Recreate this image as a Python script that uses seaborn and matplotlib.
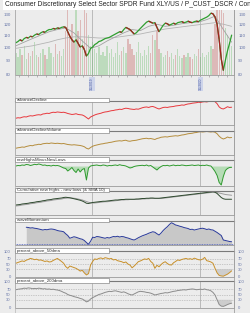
import numpy as np
import pandas as pd
import matplotlib
matplotlib.use("Agg")
import matplotlib.pyplot as plt
import matplotlib.dates as mdates
import matplotlib.transforms as mtrans
from matplotlib.patches import Rectangle
from matplotlib.lines import Line2D
from matplotlib.ticker import NullLocator
import seaborn as sns

# ---------------- data ----------------
dates = pd.date_range("2018-04-20", periods=105, freq="7D")
ma_dates = dates[::4]

title = "Consumer Discretionary Select Sector SPDR Fund XLY/US / P_CUST_DSCR / Consumer Discretionary"
panel_labels = ["advanceDecline", "advanceDeclineVolume", "newHighsMinusNewLows",
                "Cumulative new highs - new lows (& SMA 10)", "waveMomentum",
                "percent_above_50dma", "percent_above_200dma"]
date_marks = ["2019-01-02", "2020-01-02"]
date_labels = ["1/2/2019", "1/2/2020"]
price_ticks = [80, 90, 100, 110, 120, 130, 140]
pct_ticks = [0, 30, 50, 70, 100]

price = [103.5, 104.5, 106, 105, 107, 108, 107.5, 109, 108.5, 110,
         111, 110.5, 112, 113, 112.5, 114, 115, 115, 116, 115.5,
         116.5, 116, 117, 117.5, 117, 113, 109, 106, 104, 106,
         103, 100, 101, 98, 93, 95, 99, 100, 102, 103,
         104.5, 105, 106, 107, 107.5, 108, 109, 110, 111, 112,
         113, 112.5, 115, 117, 116, 115, 113, 111, 112, 114,
         116, 118, 120, 122, 123, 122, 121, 121.5, 117, 113,
         116, 119, 121, 120.5, 119, 120, 121, 120, 121.5, 122,
         122.5, 121.5, 122, 123, 122, 121.5, 122.5, 123, 122.5, 124,
         125, 126, 127, 128.5, 131, 130.5, 127, 120, 106, 91,
         83, 90, 97, 103, 110]

ma_fast = [101, 104, 107, 110, 113, 115, 116.5, 112, 105, 99, 101, 105, 108.5, 112,
           115, 114, 118, 120, 118, 119, 120.5, 121.5, 122, 124.5, 128, 115, 104]
ma_slow = [99, 100, 101, 102.5, 104, 106, 107.5, 108.5, 108.5, 108, 107.5, 107.5, 108, 109,
           110, 111, 112.5, 114, 115.5, 116.5, 117.5, 118.5, 119.5, 120.5, 121.5, 120, 118]

volume = [30, 25, 35, 28, 40, 22, 30, 26, 33, 45,
          28, 24, 30, 36, 27, 22, 38, 30, 25, 42,
          29, 33, 26, 35, 60, 95, 55, 70, 45, 100,
          60, 75, 50, 100, 85, 55, 40, 45, 35, 30,
          38, 28, 32, 26, 40, 30, 35, 25, 30, 45,
          28, 33, 38, 30, 50, 42, 35, 28, 32, 45,
          30, 26, 34, 28, 40, 30, 55, 48, 60, 35,
          30, 25, 28, 33, 24, 30, 22, 27, 35, 26,
          23, 28, 25, 30, 24, 22, 29, 26, 35, 25,
          30, 24, 28, 32, 40, 35, 70, 100, 90, 100,
          85, 65, 55, 45, 40]

adv_decl = [27, 29, 28, 31, 33, 32, 35, 37, 36, 38,
            40, 41, 40, 44, 45, 47, 46, 49, 51, 50,
            52, 51, 50, 51, 49, 46, 44, 42, 43, 45,
            42, 41, 40, 36, 30, 24, 32, 36, 40, 43,
            45, 47, 50, 52, 53, 55, 57, 58, 60, 61,
            63, 62, 65, 67, 66, 64, 63, 62, 64, 63,
            66, 69, 71, 72, 70, 73, 74, 71, 67, 64,
            67, 70, 71, 70, 72, 73, 74, 76, 77, 78,
            80, 79, 82, 84, 85, 87, 88, 89, 91, 90,
            92, 93, 92, 94, 95, 96, 93, 85, 72, 66,
            64, 68, 73, 70, 71]

adv_decl_vol = [27, 29, 30, 32, 31, 34, 36, 38, 37, 40,
                41, 43, 42, 45, 46, 47, 46, 48, 47, 46,
                47, 46, 45, 46, 44, 42, 41, 40, 41, 40,
                39, 38, 36, 33, 27, 24, 30, 35, 38, 40,
                42, 44, 45, 47, 48, 50, 51, 53, 55, 56,
                57, 56, 58, 59, 56, 55, 57, 58, 59, 61,
                63, 65, 66, 67, 65, 66, 64, 62, 66, 68,
                71, 72, 73, 72, 74, 75, 76, 77, 76, 78,
                80, 81, 83, 85, 86, 87, 89, 90, 92, 93,
                92, 93, 94, 93, 92, 93, 91, 85, 75, 68,
                64, 67, 72, 69, 70]

nh_nl = [5, 10, 8, 15, 12, 20, 18, 10, 15, 22,
         18, 25, 20, 12, 15, 8, 10, 5, 12, 8,
         10, 5, -5, -15, -20, -45, -30, -10, -40, -60,
         -25, -55, -30, -20, -135, -15, 5, 10, 12, 15,
         10, 8, 15, 12, 5, 10, 8, 12, 15, 10,
         18, 12, 10, 5, -5, -15, -10, 0, 5, 8,
         10, 12, 8, 15, 5, 10, -5, -20, -35, -15,
         0, 10, 8, 12, 5, 10, 15, 8, 12, 10,
         15, 12, 8, 10, 12, 15, 10, 12, 15, 8,
         12, 10, 15, 8, 5, -20, -50, -90, -160, -185,
         -100, -40, -20, -10, -8]

cum_nhnl = [40, 41, 42, 44, 45, 46, 47, 49, 50, 51,
            53, 54, 55, 57, 58, 60, 61, 62, 64, 65,
            66, 67, 68, 70, 71, 70, 69, 67, 65, 63,
            61, 59, 56, 52, 47, 46, 48, 50, 51, 52,
            53, 54, 55, 55, 56, 57, 58, 59, 60, 60,
            61, 62, 62, 63, 63, 63, 63, 63, 64, 64,
            65, 66, 66, 67, 67, 68, 68, 67, 67, 67,
            68, 69, 70, 71, 72, 73, 74, 75, 76, 77,
            78, 79, 80, 81, 82, 83, 84, 85, 86, 87,
            88, 89, 90, 91, 92, 93, 91, 86, 78, 70,
            65, 63, 63, 63, 63]

cum_sma = [36, 37, 38, 40, 41, 42, 43, 45, 46, 47,
           49, 50, 51, 53, 54, 56, 57, 58, 60, 61,
           62, 63, 64, 66, 67, 68, 68, 68, 67, 66,
           64, 62, 60, 57, 54, 51, 49, 48, 48, 49,
           50, 51, 52, 53, 53, 54, 55, 56, 57, 58,
           59, 60, 60, 61, 61, 62, 62, 62, 62, 63,
           63, 64, 64, 65, 65, 66, 66, 66, 66, 66,
           66, 67, 68, 69, 70, 71, 72, 73, 74, 75,
           76, 77, 78, 79, 80, 81, 82, 83, 84, 85,
           86, 87, 88, 89, 90, 91, 91, 90, 88, 86,
           84, 82, 81, 80, 79]

nan = float("nan")
momentum = [nan, nan, nan, nan, nan, 71, 70, 68, 69, 67,
            66, 64, 62, 60, 62, 61, 63, 64, 63, 61,
            58, 56, 55, 53, 45, 38, 27, 30, 33, 31,
            28, 25, 23, 18, 10, 3, 15, 31, 30, 34,
            33, 31, 29, 27, 30, 28, 31, 34, 33, 35,
            32, 34, 33, 30, 28, 25, 22, 20, 24, 29,
            33, 37, 40, 43, 47, 50, 53, 51, 45, 40,
            48, 58, 66, 73, 82, 89, 85, 80, 78, 75,
            73, 70, 68, 66, 62, 63, 60, 62, 64, 66,
            67, 65, 62, 64, 61, 60, 55, 50, 44, 38,
            20, 18, 16, 14, 13]

pct50 = [53, 56, 59, 62, 60, 65, 68, 72, 70, 67,
         69, 65, 66, 63, 60, 62, 58, 59, 64, 68,
         72, 66, 60, 53, 40, 33, 42, 39, 36, 33,
         28, 22, 25, 15, 7, 12, 46, 60, 70, 68,
         72, 74, 70, 75, 73, 70, 72, 66, 68, 63,
         61, 59, 55, 58, 50, 46, 35, 42, 50, 59,
         62, 66, 70, 68, 72, 60, 53, 33, 45, 39,
         48, 55, 59, 52, 47, 46, 55, 60, 66, 64,
         68, 70, 72, 69, 71, 68, 73, 70, 67, 66,
         69, 76, 63, 61, 58, 53, 33, 15, 5, 3,
         2, 6, 10, 16, 23]

pct200 = [68, 70, 71, 72, 74, 73, 75, 74, 72, 73,
          72, 74, 73, 71, 72, 70, 71, 69, 70, 68,
          67, 65, 62, 58, 55, 50, 47, 45, 42, 40,
          38, 35, 33, 28, 22, 25, 33, 38, 42, 46,
          50, 52, 55, 58, 60, 62, 61, 63, 64, 62,
          60, 58, 60, 57, 53, 50, 48, 52, 56, 60,
          62, 61, 60, 58, 57, 55, 52, 48, 50, 52,
          54, 55, 57, 56, 58, 60, 62, 63, 65, 66,
          67, 68, 67, 69, 70, 71, 70, 68, 69, 70,
          69, 71, 68, 67, 64, 58, 48, 30, 12, 6,
          5, 8, 12, 15, 17]

# ---------------- style ----------------
sns.set_style("white")
plt.rcParams['font.family'] = ['Liberation Sans', 'DejaVu Sans']

BG = '#ececec'
TICKC = '#6675a8'
W, H = 250, 313
XL, XR = 15, 234
fig = plt.figure(figsize=(W / 100, H / 100), dpi=100, facecolor=BG)


def frac(top, bottom):
    return [XL / W, 1 - bottom / H, (XR - XL) / W, (bottom - top) / H]


x0, x1 = pd.Timestamp("2018-04-17"), pd.Timestamp("2020-04-25")
vdates = pd.to_datetime(date_marks)


def style(ax, vl=True):
    ax.set_facecolor(BG)
    ax.set_xlim(x0, x1)
    for s in ax.spines.values():
        s.set_color('#9a9a9a')
        s.set_linewidth(0.6)
    ax.spines['top'].set_color('#7a7a7a')
    ax.spines['top'].set_linewidth(0.8)
    ax.tick_params(length=0, labelbottom=False, labelleft=False, labelright=False)
    ax.set_xlabel('')
    ax.set_ylabel('')
    if vl:
        for d in vdates:
            ax.axvline(d, color='#b2b2b2', lw=0.6, zorder=0.5)


# ---------------- price panel ----------------
axv = fig.add_axes(frac(2, 75))
style(axv)
up = [True] + [price[i] >= price[i - 1] for i in range(1, len(price))]
vcols = ['#5cb85c' if u else '#c0504d' for u in up]
axv.bar(dates, volume, width=4.5, color=vcols, alpha=0.32, linewidth=0)
axv.set_ylim(0, 100)
axv.set_yticks([])
axv.xaxis.set_major_locator(mdates.MonthLocator())
axv.tick_params(axis='x', bottom=True, length=1.5, width=0.4, color='#888888',
                direction='out', labelbottom=False)

ax1 = axv.twinx()
ax1.set_yscale('log')
sns.lineplot(x=ma_dates, y=ma_slow, ax=ax1, color='#b4b4b4', lw=0.6)
sns.lineplot(x=ma_dates, y=ma_fast, ax=ax1, color='#a2a2a2', lw=0.6)
sns.lineplot(x=dates, y=price, ax=ax1, color='#2e9e2e', lw=0.9)
for i in range(1, len(price)):
    if price[i] < price[i - 1]:
        ax1.plot([dates[i - 1], dates[i]], [price[i - 1], price[i]],
                 color='#a52020', lw=0.9, solid_capstyle='butt')
ax1.set_ylim(81.6, 143.3)
ax1.yaxis.set_minor_locator(NullLocator())
ax1.set_yticks(price_ticks)
ax1.set_yticklabels([str(t) for t in price_ticks])
for s in ax1.spines.values():
    s.set_visible(False)
ax1.set_xlabel('')
ax1.set_ylabel('')
ax1.set_xlim(x0, x1)
ax1.tick_params(axis='y', which='both', length=0, labelleft=True, labelright=True,
                labelsize=3.2, labelcolor=TICKC, pad=3)

btr = mtrans.blended_transform_factory(ax1.transData, ax1.transAxes)
for d, lab in zip(vdates, date_labels):
    ax1.text(d, -0.04, lab, transform=btr, rotation=90, ha='center', va='top',
             fontsize=2.3, color='#4a5aa0',
             bbox=dict(boxstyle='square,pad=0.2', fc='#cdd4ea', ec='none'))

# ---------------- indicator panels ----------------
panel_px = [(100.7, 125), (131, 155), (160.3, 185.7), (190.7, 215),
            (220.7, 245), (251.3, 276.7), (281.3, 307.7)]
axes = [fig.add_axes(frac(t, b)) for t, b in panel_px]
for ax in axes:
    style(ax)

a = axes[0]
sns.lineplot(x=dates, y=adv_decl, ax=a, color='#e8383d', lw=0.7)
a.set_ylim(0, 97)

a = axes[1]
sns.lineplot(x=dates, y=adv_decl_vol, ax=a, color='#b58d3d', lw=0.7)
a.set_ylim(0, 96)

a = axes[2]
nh = np.array(nh_nl, dtype=float)
a.fill_between(dates, nh, 0, where=nh < 0, interpolate=True, color='#a9d9a9', alpha=0.8, lw=0)
sns.lineplot(x=dates, y=nh_nl, ax=a, color='#2e9a2e', lw=0.7)
a.set_ylim(-192, 62)

a = axes[3]
sns.lineplot(x=dates, y=cum_sma, ax=a, color='#9c9c9c', lw=0.7)
sns.lineplot(x=dates, y=cum_nhnl, ax=a, color='#2f4a2f', lw=0.7)
a.set_ylim(0, 97.2)

a = axes[4]
mom = np.array(momentum, dtype=float)
a.fill_between(dates, mom, 0, color='#c8c8c8', lw=0)
a.axhline(3, color='#5060c0', ls=(0, (1, 1)), lw=0.6)
sns.lineplot(x=dates, y=momentum, ax=a, color='#2a3a9a', lw=0.7)
a.set_ylim(0, 97.2)

for a, vals, col in [(axes[5], pct50, '#c8902a'), (axes[6], pct200, '#8c8c8c')]:
    v = np.array(vals, dtype=float)
    for lvl in (30, 50, 70):
        a.axhline(lvl, color='#a0a0a0', ls=(0, (1, 1.5)), lw=0.5, zorder=0.6)
    a.fill_between(dates, v, 30, where=v < 30, interpolate=True, color='#c6c6c6', alpha=0.8, lw=0)
    sns.lineplot(x=dates, y=vals, ax=a, color=col, lw=0.7)
    a.set_ylim(0, 100)
    a.set_yticks(pct_ticks)
    a.set_yticklabels([str(t) for t in pct_ticks])
    a.tick_params(axis='y', length=0, labelleft=True, labelright=True,
                  labelsize=3, labelcolor=TICKC, pad=3)
    a.set_xlabel('')
    a.set_ylabel('')

# tab labels
for (t, b), lab in zip(panel_px, panel_labels):
    fig.add_artist(Rectangle((XL / W, 1 - (t + 1.5) / H), 94 / W, 4.5 / H,
                             transform=fig.transFigure, fc='white', ec='#8a8a8a',
                             lw=0.5, zorder=5))
    fig.text(17 / W, 1 - (t - 0.75) / H, lab, fontsize=3.2, color='#333333',
             va='center', ha='left', zorder=6)

# frame lines through gaps
fig.add_artist(Line2D([XR / W, XR / W], [0, 1], transform=fig.transFigure,
                      color='#a0a0a0', lw=0.6, zorder=4))
fig.add_artist(Line2D([XL / W, XL / W], [0, 1 - 2 / H], transform=fig.transFigure,
                      color='#b8b8b8', lw=0.5, zorder=4))

# title
fig.add_artist(Rectangle((3 / W, 1 - 10 / H), 247 / W, 10 / H, transform=fig.transFigure,
                         fc='white', ec='none', zorder=7))
fig.text(5 / W, 1 - 5 / H, title, fontsize=4.8, color='#222222', va='center', ha='left',
         zorder=8)

fig.savefig('out.png', dpi=100, facecolor=BG)
